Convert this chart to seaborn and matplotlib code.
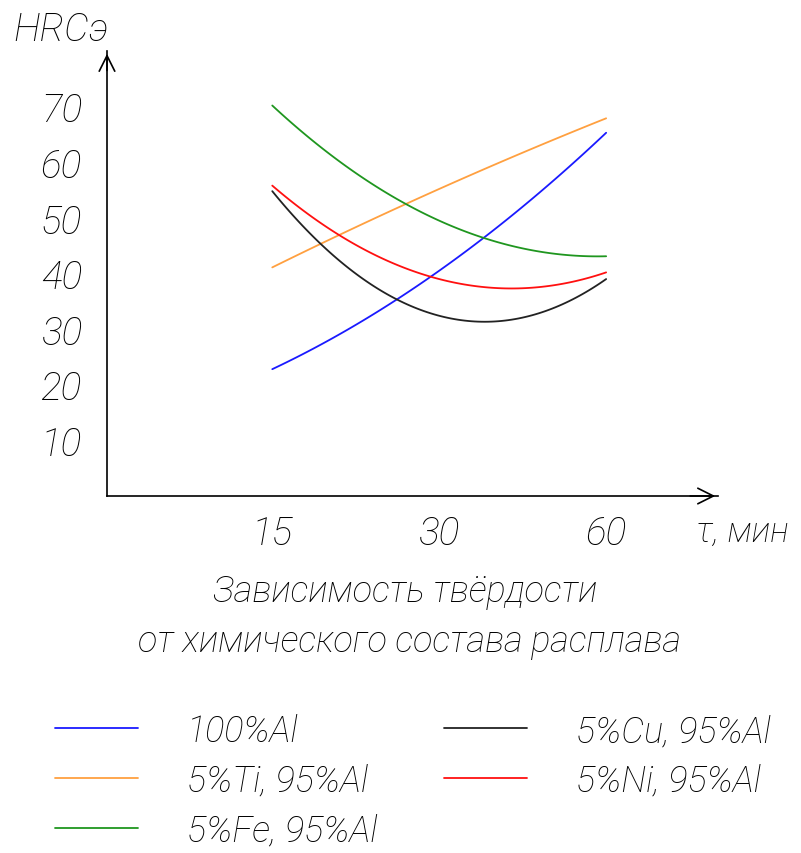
import matplotlib
matplotlib.use("Agg")
import matplotlib.pyplot as plt
import numpy as np
import pandas
import seaborn as sns

sns.set_style("white")
FONT = ["Roboto", "DejaVu Sans"]
plt.rcParams["font.family"] = FONT
plt.rcParams["font.style"] = "italic"
plt.rcParams["font.weight"] = "light"
plt.rcParams["text.color"] = "black"

# data
times = ["15", "30", "60"]
alloys = ["100%Al", "5%Ti, 95%Al", "5%Fe, 95%Al", "5%Cu, 95%Al", "5%Ni, 95%Al"]
hrc_al = [22.8, 40.5, 65.3]
hrc_ti = [41.1, 55.2, 67.9]
hrc_fe = [70.2, 49.5, 43.1]
hrc_cu = [54.8, 32.4, 39.0]
hrc_ni = [55.8, 39.0, 40.2]
y_ticks = [10, 20, 30, 40, 50, 60, 70]

PALETTE = {
    "100%Al": "#1a1aff",
    "5%Ti, 95%Al": "#ffa040",
    "5%Fe, 95%Al": "#1f961f",
    "5%Cu, 95%Al": "#222222",
    "5%Ni, 95%Al": "#ff1010",
}
FS = 26

frames = []
for name, vals in zip(alloys, [hrc_al, hrc_ti, hrc_fe, hrc_cu, hrc_ni]):
    frames.append(pandas.DataFrame({"alloy": name, "pos": np.arange(len(times)), "hrc": vals}))
data = pandas.concat(frames, ignore_index=True)

fig = plt.figure(figsize=(8.01, 8.54), dpi=100)
ax = fig.add_axes([107 / 801, 1 - 497 / 854, (718 - 107) / 801, (497 - 52) / 854])

for name in alloys:
    g = data[data["alloy"] == name]
    # smooth curve through the three measured points
    sns.regplot(data=g, x="pos", y="hrc", order=2, ci=None, scatter=False,
                color=PALETTE[name], line_kws={"lw": 1.3}, ax=ax, label=name)

ax.set_xlim(-0.99, 2.67)
ax.set_ylim(0, 80)
ax.set_xticks(range(len(times)))
ax.set_xticklabels(times)
ax.set_yticks(y_ticks)
ax.set_xlabel("")
ax.set_ylabel("")
for s in ["top", "right"]:
    ax.spines[s].set_visible(False)
for s in ["left", "bottom"]:
    ax.spines[s].set_color("black")
    ax.spines[s].set_linewidth(1.2)
ax.tick_params(axis="both", length=3, width=1, color="black", labelsize=28,
               labelcolor="black")
ax.tick_params(axis="y", pad=15)
ax.tick_params(axis="x", pad=10)

# arrow heads
ax.annotate("", xy=(1.0, 0), xytext=(0.95, 0), xycoords="axes fraction",
            arrowprops=dict(arrowstyle="->", lw=1.2, mutation_scale=28, color="black"))
ax.annotate("", xy=(0, 1.0), xytext=(0, 0.95), xycoords="axes fraction",
            arrowprops=dict(arrowstyle="->", lw=1.2, mutation_scale=28, color="black"))

fig.text(13 / 801, 1 - 30 / 854, "HRCэ", fontsize=28, va="center", ha="left")
fig.text(696 / 801, 1 - 532 / 854, "τ, мин", fontsize=25, va="center", ha="left")
fig.text(405 / 801, 1 - 592 / 854, "Зависимость твёрдости", fontsize=FS, ha="center", va="center")
fig.text(410 / 801, 1 - 642 / 854, "от химического состава расплава", fontsize=FS, ha="center", va="center")

handles, labels = ax.get_legend_handles_labels()
fig.legend(handles, labels, loc="upper left", bbox_to_anchor=(55 / 801, 1 - 714 / 854),
           ncol=2, frameon=False, fontsize=FS, handlelength=2.3, handletextpad=1.35,
           columnspacing=1.85, labelspacing=0.38, borderpad=0, borderaxespad=0)

fig.savefig("out.png", dpi=100)
